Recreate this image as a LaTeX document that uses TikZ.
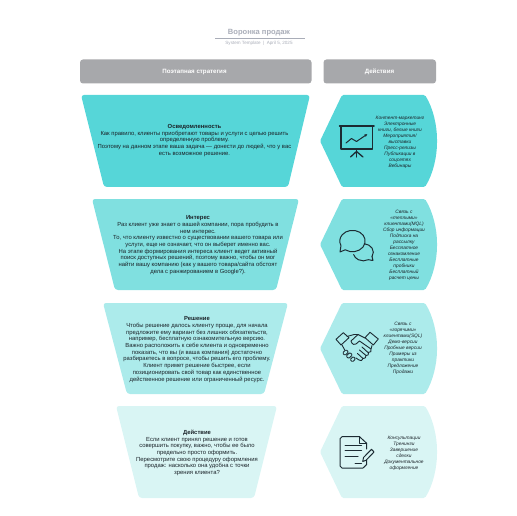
\documentclass[tikz,border=0pt]{standalone}
\usepackage{fontspec}
\setmainfont{Liberation Sans}
\usepackage{tikz}
\usetikzlibrary{arrows.meta}

\begin{document}
\begin{tikzpicture}[
    x=1bp, y=-1bp,
    >=Latex,
    head/.style={fill=headgray, rounded corners=3pt},
    stage/.style={rounded corners=3pt},
    tipshape/.style={rounded corners=1.5pt},
    body/.style={align=center, inner sep=0pt, text=bodyink, font=\fontsize{5.9}{6.72}\selectfont},
    act/.style={align=center, inner sep=0pt, text=bodyink, font=\fontsize{4.85}{6}\selectfont\itshape},
    headtxt/.style={align=center, inner sep=0pt, text=white, font=\fontsize{6.2}{6.7}\selectfont\bfseries},
    ico/.style={draw=iconink, line width=1pt, line join=round, line cap=round}
]
\definecolor{headgray}{HTML}{A7A8AB}
\definecolor{titlegray}{HTML}{A9ADB8}
\definecolor{bodyink}{HTML}{1A2228}
\definecolor{iconink}{HTML}{1C2B33}
\definecolor{stageA}{HTML}{56D6D8}
\definecolor{stageB}{HTML}{80E0E0}
\definecolor{stageC}{HTML}{ACEBEB}
\definecolor{stageD}{HTML}{D9F5F4}

\useasboundingbox (0,0) rectangle (516,516);

% TITLE
\node[inner sep=0pt, text=titlegray, font=\fontsize{7.6}{9}\selectfont\bfseries] (title) at (259,33) {Воронка продаж};
\draw[titlegray, line width=0.6pt] (215,38.5) -- (305,38.5);
\node[inner sep=0pt, text=titlegray, font=\fontsize{4.6}{5}\selectfont] (subtitle) at (259,43) {System Template \ | \ April 5, 2025};

% HEADERS
\fill[head] (80,59.5) rectangle (311.5,83.5);
\node[headtxt] (headleft) at (194.5,72) {Поэтапная стратегия};
\fill[head] (323.5,59.5) rectangle (436,83.5);
\node[headtxt] (headright) at (379.5,72) {Действия};

% FUNNEL
\fill[stage, stageA] (81,95) -- (310,95) -- (288,187) -- (104,187) -- cycle;
\fill[stage, stageB] (92,199) -- (299,199) -- (276,290) -- (115,290) -- cycle;
\fill[stage, stageC] (103,303) -- (288,303) -- (264,394) -- (127,394) -- cycle;
\fill[stage, stageD] (116,406) -- (277,406) -- (254,498) -- (139,498) -- cycle;

% ACTION SHAPES
\fill[tipshape, stageA] (320,141) -- (342,95) -- (425,95) .. controls (433,108) and (437,125) .. (437,141) .. controls (437,157) and (433,174) .. (425,187) -- (342,187) -- cycle;
\fill[tipshape, stageB] (320,244.5) -- (342,199) -- (425,199) .. controls (433,212) and (437,229) .. (437,244.5) .. controls (437,260) and (433,277) .. (425,290) -- (342,290) -- cycle;
\fill[tipshape, stageC] (320,348.5) -- (342,303) -- (425,303) .. controls (433,316) and (437,333) .. (437,348.5) .. controls (437,364) and (433,381) .. (425,394) -- (342,394) -- cycle;
\fill[tipshape, stageD] (320,452) -- (342,406) -- (425,406) .. controls (433,419) and (437,436) .. (437,452) .. controls (437,468) and (433,485) .. (425,498) -- (342,498) -- cycle;

% FUNNEL TEXT
\node[body] (aware) at (194.5,140.5) {\textbf{Осведомленность}\\Как правило, клиенты приобретают товары и услуги с целью решить\\определенную проблему.\\Поэтому на данном этапе ваша задача — донести до людей, что у вас\\есть возможное решение.};
\node[body] (interest) at (198,245) {\textbf{Интерес}\\Раз клиент уже знает о вашей компании, пора пробудить в\\нем интерес.\\То, что клиенту известно о существовании вашего товара или\\услуги, еще не означает, что он выберет именно вас.\\На этапе формирования интереса клиент ведет активный\\поиск доступных решений, поэтому важно, чтобы он мог\\найти вашу компанию (как у вашего товара/сайта обстоят\\дела с ранжированием в Google?).};
\node[body] (decision) at (197,349.5) {\textbf{Решение}\\Чтобы решение далось клиенту проще, для начала\\предложите ему вариант без лишних обязательств,\\например, бесплатную ознакомительную версию.\\Важно расположить к себе клиента и одновременно\\показать, что вы (и ваша компания) достаточно\\разбираетесь в вопросе, чтобы решить его проблему.\\Клиент примет решение быстрее, если\\позиционировать свой товар как единственное\\действенное решение или ограниченный ресурс.};
\node[body] (action) at (197,453) {\textbf{Действие}\\Если клиент принял решение и готов\\совершить покупку, важно, чтобы ее было\\предельно просто оформить.\\Пересмотрите свою процедуру оформления\\продаж: насколько она удобна с точки\\зрения клиента?};

% ACTION TEXT
\node[act] (acta) at (400,142) {Контент-маркетинг\\Электронные\\книги, белые книги\\Мероприятия/\\выставки\\Пресс-релизы\\Публикации в\\соцсетях\\Вебинары};
\node[act] (actb) at (404,245.5) {Связь с\\«теплыми»\\клиентами(MQL)\\Сбор информации\\Подписка на\\рассылку\\Бесплатное\\ознакомление\\Бесплатные\\пробники\\Бесплатный\\расчет цены};
\node[act] (actc) at (403,348.5) {Связь с\\«горячими»\\клиентами(SQL)\\Демо-версии\\Пробные версии\\Примеры из\\практики\\Предложение\\Продажи};
\node[act] (actd) at (404,453) {Консультации\\Тренинги\\Завершение\\сделки\\Документальное\\оформление};

% ICON BOARD
\draw[ico, line width=1.5pt] (339.5,126) -- (374,126);
\draw[ico, line width=1.5pt] (341,126.5) -- (341,149) -- (372.5,149) -- (372.5,126.5);
\draw[ico, ->, >={Latex[length=3pt,width=3pt]}] (346,143) -- (351.5,138.5) -- (356.5,141.5) -- (367.5,134);
\draw[ico, line width=1.3pt] (356.5,149) -- (356.5,157);
\draw[ico, line width=1.3pt] (350.5,157) -- (356.5,151.5) -- (363,157);

% ICON BUBBLES
\draw[ico] (372,256.5) arc[start angle=30, end angle=-85, x radius=10, y radius=8.5];
\draw[ico] (372,256.5) -- (373,260.5) -- (368.3,259.7) arc[start angle=60, end angle=165, x radius=10, y radius=8.5];
\draw[ico] (345.2,249.8) arc[start angle=125, end angle=-205, x radius=12.7, y radius=10.7] -- (340,252) -- cycle;

% ICON HANDSHAKE
\draw[ico, line width=0.9pt] (336,339.3) -- (343.3,332.7) -- (349,337.7) -- (341,345) -- cycle;
\draw[ico, line width=0.9pt] (365,337.7) -- (370,332.3) -- (378.3,339) -- (373.3,345) -- cycle;
\draw[ico, line width=0.9pt] (347,336.5) -- (354,334.5) -- (358,334.5) -- (365,338);
\draw[ico, line width=0.9pt] (358,334.5) -- (351,341) .. controls (352,345) and (355,345) .. (356,344) -- (359.5,341) -- (371,349) .. controls (372.5,351) and (370,353) .. (368,352.5) -- (362,347);
\draw[ico, line width=0.9pt] (368.5,352.5) .. controls (369.5,354.5) and (367.5,356) .. (366,355.5) -- (359.5,350);
\draw[ico, line width=0.9pt] (366,355.5) .. controls (366.5,357.5) and (364.5,359) .. (363,358.5) -- (357.5,353.5);
\draw[ico, line width=0.9pt] (363,358.5) .. controls (362.5,361) and (360.5,361) .. (359,360) -- (356,358);
\draw[ico, line width=0.9pt] (372,345.5) -- (371,349);
\draw[ico, line width=0.9pt] (342,345) -- (344.5,349.5);
\draw[ico, line width=0.9pt, rounded corners=1pt] (342.5,353) -- (346,349.5) -- (348.5,352) -- (345,355.5) -- cycle;
\draw[ico, line width=0.9pt, rounded corners=1pt] (346,356) -- (350,352.5) -- (352.5,355) -- (348.5,358.5) -- cycle;
\draw[ico, line width=0.9pt, rounded corners=1pt] (350,359.5) -- (353.5,356.5) -- (355.5,359) -- (352.5,362) -- cycle;

% ICON DOCUMENT
\draw[ico] (366.7,449) -- (366.7,443.3) -- (359.5,436.7) -- (342,436.7) -- (340,438.7) -- (340,466) -- (342,468) -- (363,468) -- (366.7,464.5) -- (366.7,460);
\draw[ico] (359.5,436.7) -- (359.5,443.3) -- (366.7,443.3);
\draw[ico] (345,445.7) -- (361.5,445.7);
\draw[ico] (345,450.7) -- (361.5,450.7);
\draw[ico] (345,456) -- (358,456);
\draw[ico] (355,463.3) -- (361.5,463.3);
\draw[ico] (362.7,461.5) -- (363.5,457.5) -- (371.5,449.3) -- (374,452) -- (366,460.3) -- cycle;

\end{tikzpicture}
\end{document}
